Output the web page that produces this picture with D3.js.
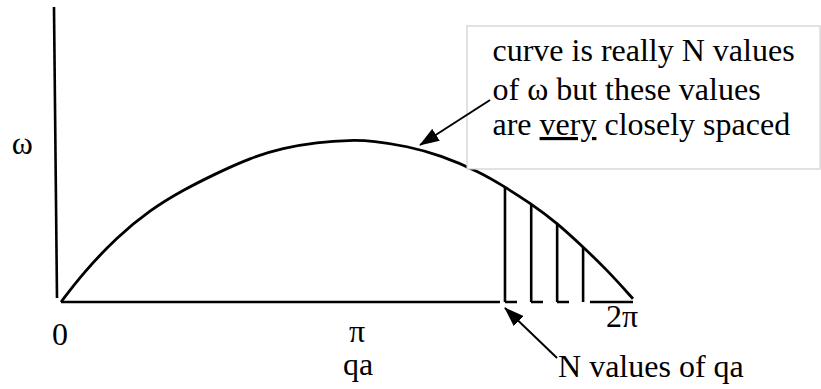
<!DOCTYPE html>
<html>
<head>
<meta charset="utf-8">
<script src="https://cdn.jsdelivr.net/npm/d3@7"></script>
<style>
  html, body { margin: 0; padding: 0; background: #fff; }
  svg { display: block; }
  svg text, svg tspan { font-family: Liberation Serif, Tinos, serif !important; }
</style>
</head>
<body>
<svg id="chart" width="821" height="389"></svg>
<script>
// ---- data ----
const curveQa    = [0, 0.242, 0.615, 0.978, 1.340, 1.714, 2.076, 2.439, 2.812, 3.175, 3.427, 3.801, 4.163, 4.603, 4.877, 5.152, 5.449, 5.734, 5.998, 6.283];
const curveOmega = [0, 0.179, 0.401, 0.568, 0.691, 0.796, 0.889, 0.951, 0.985, 1.000, 0.995, 0.962, 0.907, 0.802, 0.710, 0.611, 0.488, 0.340, 0.198, 0.020];
const sampleQa    = [4.877, 5.165, 5.450, 5.735];
const sampleOmega = [0.710, 0.605, 0.488, 0.340];
const tickValues = [0, Math.PI, 2 * Math.PI];
const tickLabels = ["0", "\u03c0", "2\u03c0"];
const boxLines = ["curve is really N values", "of \u03c9 but these values", "are |very| closely spaced"];
const yLabel = "\u03c9";
const xLabel = "qa";
const bottomNote = "N values of qa";

// ---- scales ----
const svg = d3.select("#chart");
const x = d3.scaleLinear().domain([0, 2 * Math.PI]).range([61, 633]);
const y = d3.scaleLinear().domain([0, 1]).range([302, 140]);

function label(sel) {
  return sel.attr("font-size", 32).attr("fill", "#000")
    .attr("font-family", "Liberation Serif")
    .attr("style", "font-family: Liberation Serif !important; font-size: 32px");
}

// arrow markers
const defs = svg.append("defs");
defs.append("marker")
  .attr("id", "head")
  .attr("markerUnits", "userSpaceOnUse")
  .attr("viewBox", "0 0 20 14")
  .attr("refX", 19).attr("refY", 7)
  .attr("markerWidth", 20).attr("markerHeight", 14)
  .attr("orient", "auto")
  .append("path").attr("d", "M0,0 L20,7 L0,14 Z").attr("fill", "#000");

// vertical (omega) axis, slightly leaning as in the drawing
svg.append("line")
  .attr("x1", x(-0.077)).attr("y1", y(1.821))
  .attr("x2", x(-0.044)).attr("y2", y(0.025))
  .attr("stroke", "#000").attr("stroke-width", 2.6);

// horizontal axis: solid, dashed between the samples, solid to 2pi
const solidParts = [[0, 4.822], [5.81, 2 * Math.PI]];
svg.selectAll(".base").data(solidParts).join("line")
  .attr("class", "base")
  .attr("x1", d => x(d[0])).attr("x2", d => x(d[1]))
  .attr("y1", y(0)).attr("y2", y(0))
  .attr("stroke", "#000").attr("stroke-width", 2.6);
svg.append("line")
  .attr("x1", x(sampleQa[0])).attr("x2", x(sampleQa[sampleQa.length - 1]))
  .attr("y1", y(0)).attr("y2", y(0))
  .attr("stroke", "#000").attr("stroke-width", 2.6)
  .attr("stroke-dasharray", "12,14");

// dispersion curve
const pts = curveQa.map((q, i) => [q, curveOmega[i]]);
svg.append("path")
  .datum(pts)
  .attr("d", d3.line().x(d => x(d[0])).y(d => y(d[1])).curve(d3.curveBasis))
  .attr("fill", "none").attr("stroke", "#000").attr("stroke-width", 2.8);

// N sample lines
svg.selectAll(".samp").data(sampleQa).join("line")
  .attr("class", "samp")
  .attr("x1", d => x(d)).attr("x2", d => x(d))
  .attr("y1", y(0)).attr("y2", (d, i) => y(sampleOmega[i]))
  .attr("stroke", "#000").attr("stroke-width", 2.6);

// annotation box
svg.append("rect")
  .attr("x", x(4.460)).attr("y", y(1.704))
  .attr("width", x(8.338) - x(4.460)).attr("height", y(0.821) - y(1.704))
  .attr("fill", "#fff").attr("stroke", "#cfcfcf").attr("stroke-width", 1.2);

const boxBaselines = [1.489, 1.247, 1.031];
svg.selectAll(".boxline").data(boxLines).join("text")
  .attr("class", "boxline")
  .attr("x", x(4.740)).attr("y", (d, i) => y(boxBaselines[i]))
  .call(label)
  .each(function (ln) {
    const t = d3.select(this);
    ln.split("|").forEach((part, j) => {
      const ts = t.append("tspan").text(part);
      if (j === 1) ts.attr("text-decoration", "underline").style("text-decoration", "underline");
    });
  });

// arrows
svg.append("line")
  .attr("x1", x(4.713)).attr("y1", y(1.247))
  .attr("x2", x(3.944)).attr("y2", y(0.969))
  .attr("stroke", "#000").attr("stroke-width", 2)
  .attr("marker-end", "url(#head)");
svg.append("line")
  .attr("x1", x(5.449)).attr("y1", y(-0.346))
  .attr("x2", x(4.877)).attr("y2", y(-0.037))
  .attr("stroke", "#000").attr("stroke-width", 2)
  .attr("marker-end", "url(#head)");

// tick labels
const tickDx = [-1, 10, -11];
const tickBase = [-0.265, -0.247, -0.154];
svg.selectAll(".tick").data(tickValues).join("text")
  .attr("class", "tick")
  .attr("x", (d, i) => x(d) + tickDx[i])
  .attr("y", (d, i) => y(tickBase[i]))
  .attr("text-anchor", "middle")
  .call(label)
  .text((d, i) => tickLabels[i]);

// axis labels
svg.append("text")
  .attr("x", x(0) + 297).attr("y", y(-0.449))
  .attr("text-anchor", "middle")
  .call(label)
  .text(xLabel);
svg.append("text")
  .attr("x", x(-0.424)).attr("y", y(0.914))
  .attr("text-anchor", "middle")
  .call(label)
  .text(yLabel);
svg.append("text")
  .attr("x", x(5.460)).attr("y", y(-0.463))
  .call(label)
  .text(bottomNote);
</script>
</body>
</html>
